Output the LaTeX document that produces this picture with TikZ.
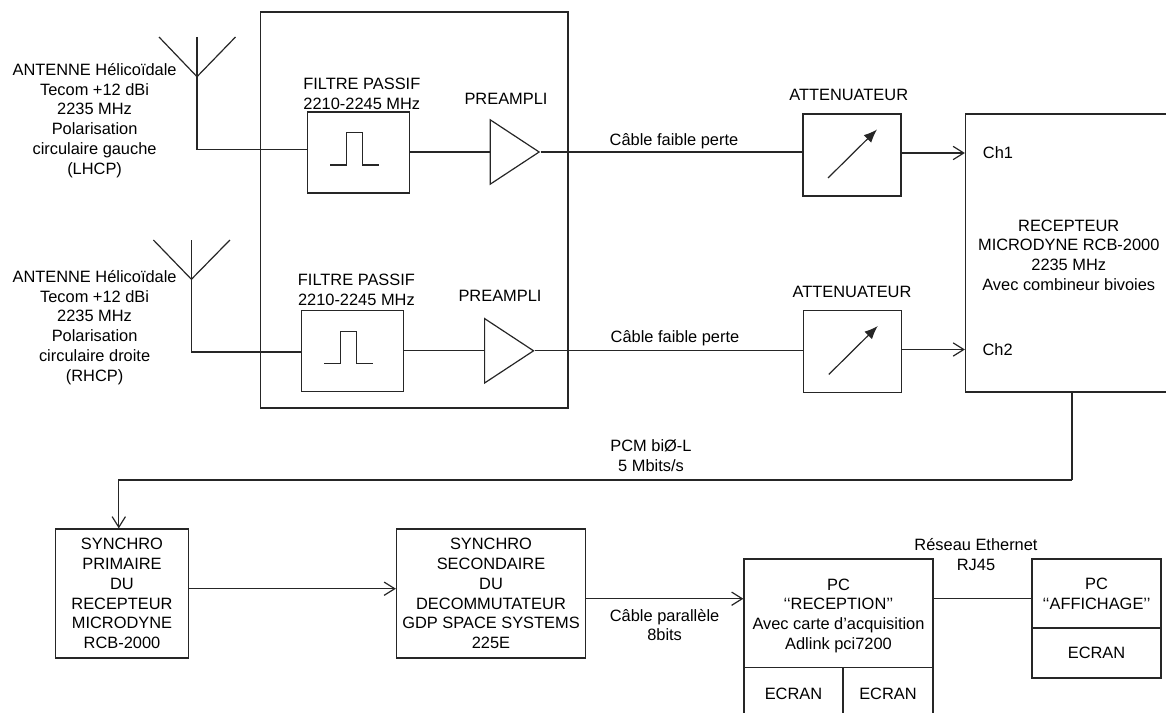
\documentclass[tikz,border=0pt]{standalone}
\usepackage{fontspec}
\setmainfont{Liberation Sans}
\usetikzlibrary{arrows.meta,shapes.geometric}

\tikzset{
	trait/.style={line width=0.9pt, color=black!85},
	texte/.style={font=\fontsize{12.3}{14.8}\selectfont, align=center, inner sep=0pt},
	boite/.style={draw, trait, texte, text=black},
	filtre/.style={boite, minimum width=76.5pt, minimum height=60.75pt},
	attenuateur/.style={boite, minimum width=73.5pt, minimum height=61.5pt},
	ampli/.style={draw, trait, isosceles triangle, isosceles triangle stretches, inner sep=0pt,
		minimum width=48.3pt, minimum height=36.7pt, anchor=lower side},
	fleche/.style={trait, -{Straight Barb[length=8pt,width=10pt]}},
	reglage/.style={trait, -{Latex[length=10pt,width=8pt]}}
}

\begin{document}
\begin{tikzpicture}[x=0.75pt, y=-0.75pt]
	\useasboundingbox (0,0) rectangle (1166,713);
	% boitier des filtres et preamplis
	\node[boite, minimum width=230.6pt, minimum height=297pt] (boitier) at (414.3,210) {};
	% voie gauche
	\node[filtre] (fil1) at (358.5,152.5) {};
	\node[ampli] (amp1) at (489.6,152) {};
	\node[attenuateur] (att1) at (852,155) {};
	\node[texte] (ant1txt) at (94.6,120.5) {ANTENNE Hélicoïdale\\Tecom +12 dBi\\2235 MHz\\Polarisation\\circulaire gauche\\(LHCP)};
	\node[texte] (fil1txt) at (361.8,93.7) {FILTRE PASSIF\\2210-2245 MHz};
	\node[texte] (amp1txt) at (506,98.5) {PREAMPLI};
	\node[texte] (cab1txt) at (674,141) {Câble faible perte};
	\node[texte] (att1txt) at (848.7,94.5) {ATTENUATEUR};
	% voie droite
	\node[filtre] (fil2) at (352.5,351.2) {};
	\node[ampli] (amp2) at (484,350.8) {};
	\node[attenuateur] (att2) at (852.75,351.5) {};
	\node[texte] (ant2txt) at (94.6,327.5) {ANTENNE Hélicoïdale\\Tecom +12 dBi\\2235 MHz\\Polarisation\\circulaire droite\\(RHCP)};
	\node[texte] (fil2txt) at (356.4,290) {FILTRE PASSIF\\2210-2245 MHz};
	\node[texte] (amp2txt) at (500,295.5) {PREAMPLI};
	\node[texte] (cab2txt) at (675,338) {Câble faible perte};
	\node[texte] (att2txt) at (852,291.5) {ATTENUATEUR};
	% recepteur, ouvert sur le bord droit
	\node[boite, minimum width=154.9pt, minimum height=208.5pt] (rcpt) at (1068.75,253) {};
	\node[texte] (rcpttxt) at (1068.75,255) {RECEPTEUR\\MICRODYNE RCB-2000\\2235 MHz\\Avec combineur bivoies};
	\node[texte, anchor=west] (ch1) at (982.7,153) {Ch1};
	\node[texte, anchor=west] (ch2) at (982.3,349.5) {Ch2};
	% antennes
	\foreach \n/\x/\h/\j/\b in {1/197/37/76.7/149.7, 2/191.4/240/279.3/352} {
		\coordinate (ant\n) at (\x,\j);
		\coordinate (ant\n b) at (\x,\b);
		\draw[trait] (\x,\h) -- (ant\n) -- (ant\n b) -- (fil\n.west |- ant\n b);
		\draw[trait] ({\x-38},\h) -- (ant\n) -- ({\x+38.5},\h);
	}
	% chaque voie jusqu'au recepteur
	\foreach \n in {1,2} {
		\draw[trait] ([shift={(-28.5,12.5)}]fil\n.center) -- ++(16.3,0) -- ++(0,-32.6) -- ++(16.2,0) -- ++(0,32.6) -- ++(16.2,0);
		\draw[trait] (fil\n.east |- amp\n.lower side) -- (amp\n.lower side);
		\draw[trait] (amp\n.apex) -- (att\n.west |- amp\n.apex);
		\draw[reglage] ([shift={(-24,23)}]att\n.center) -- ++(49,-48.5);
		\draw[fleche] (att\n.east |- ch\n) -- (rcpt.west |- ch\n);
	}
	% chaine de reception
	\node[boite, minimum width=99.6pt, minimum height=96.75pt] (syn1) at (122,593.5) {SYNCHRO\\PRIMAIRE\\DU\\RECEPTEUR\\MICRODYNE\\RCB-2000};
	\node[boite, minimum width=141.8pt, minimum height=96.75pt] (syn2) at (491,593.5) {SYNCHRO\\SECONDAIRE\\DU\\DECOMMUTATEUR\\GDP SPACE SYSTEMS\\225E};
	\node[boite, minimum width=141.8pt, minimum height=81.5pt] (pc1) at (838.5,613.3) {};
	\node[texte] (pc1txt) at (838.5,615.8) {PC\\‘‘RECEPTION’’\\Avec carte d’acquisition\\Adlink pci7200};
	\node[boite, minimum width=74.2pt, minimum height=39.5pt] (ecr1) at (793.5,694) {ECRAN};
	\node[boite, minimum width=67.5pt, minimum height=39.5pt] (ecr2) at (888,694) {ECRAN};
	\node[boite, minimum width=96.8pt, minimum height=51.75pt] (pc2) at (1096.5,593.5) {PC\\‘‘AFFICHAGE’’};
	\node[boite, minimum width=96.8pt, minimum height=37.5pt] (ecr3) at (1096.5,653) {ECRAN};
	\node[texte] (pcmtxt) at (651,456) {PCM biØ-L\\5 Mbits/s};
	\node[texte] (partxt) at (664.6,625) {Câble parallèle\\8bits};
	\node[texte] (ethtxt) at (976,554.5) {Réseau Ethernet\\RJ45};
	\coordinate (pcm) at (1072,480);
	\draw[trait] (rcpt.south -| pcm) -- (pcm);
	\draw[fleche] (pcm) -| (syn1.north -| 118.8,0);
	\draw[fleche] (syn1.east |- 0,588.7) -- (syn2.west |- 0,588.7);
	\draw[fleche] (syn2.east |- 0,598.7) -- (pc1.west |- 0,598.7);
	\draw[trait] (pc1.east |- 0,598.7) -- (pc2.west |- 0,598.7);
\end{tikzpicture}
\end{document}
